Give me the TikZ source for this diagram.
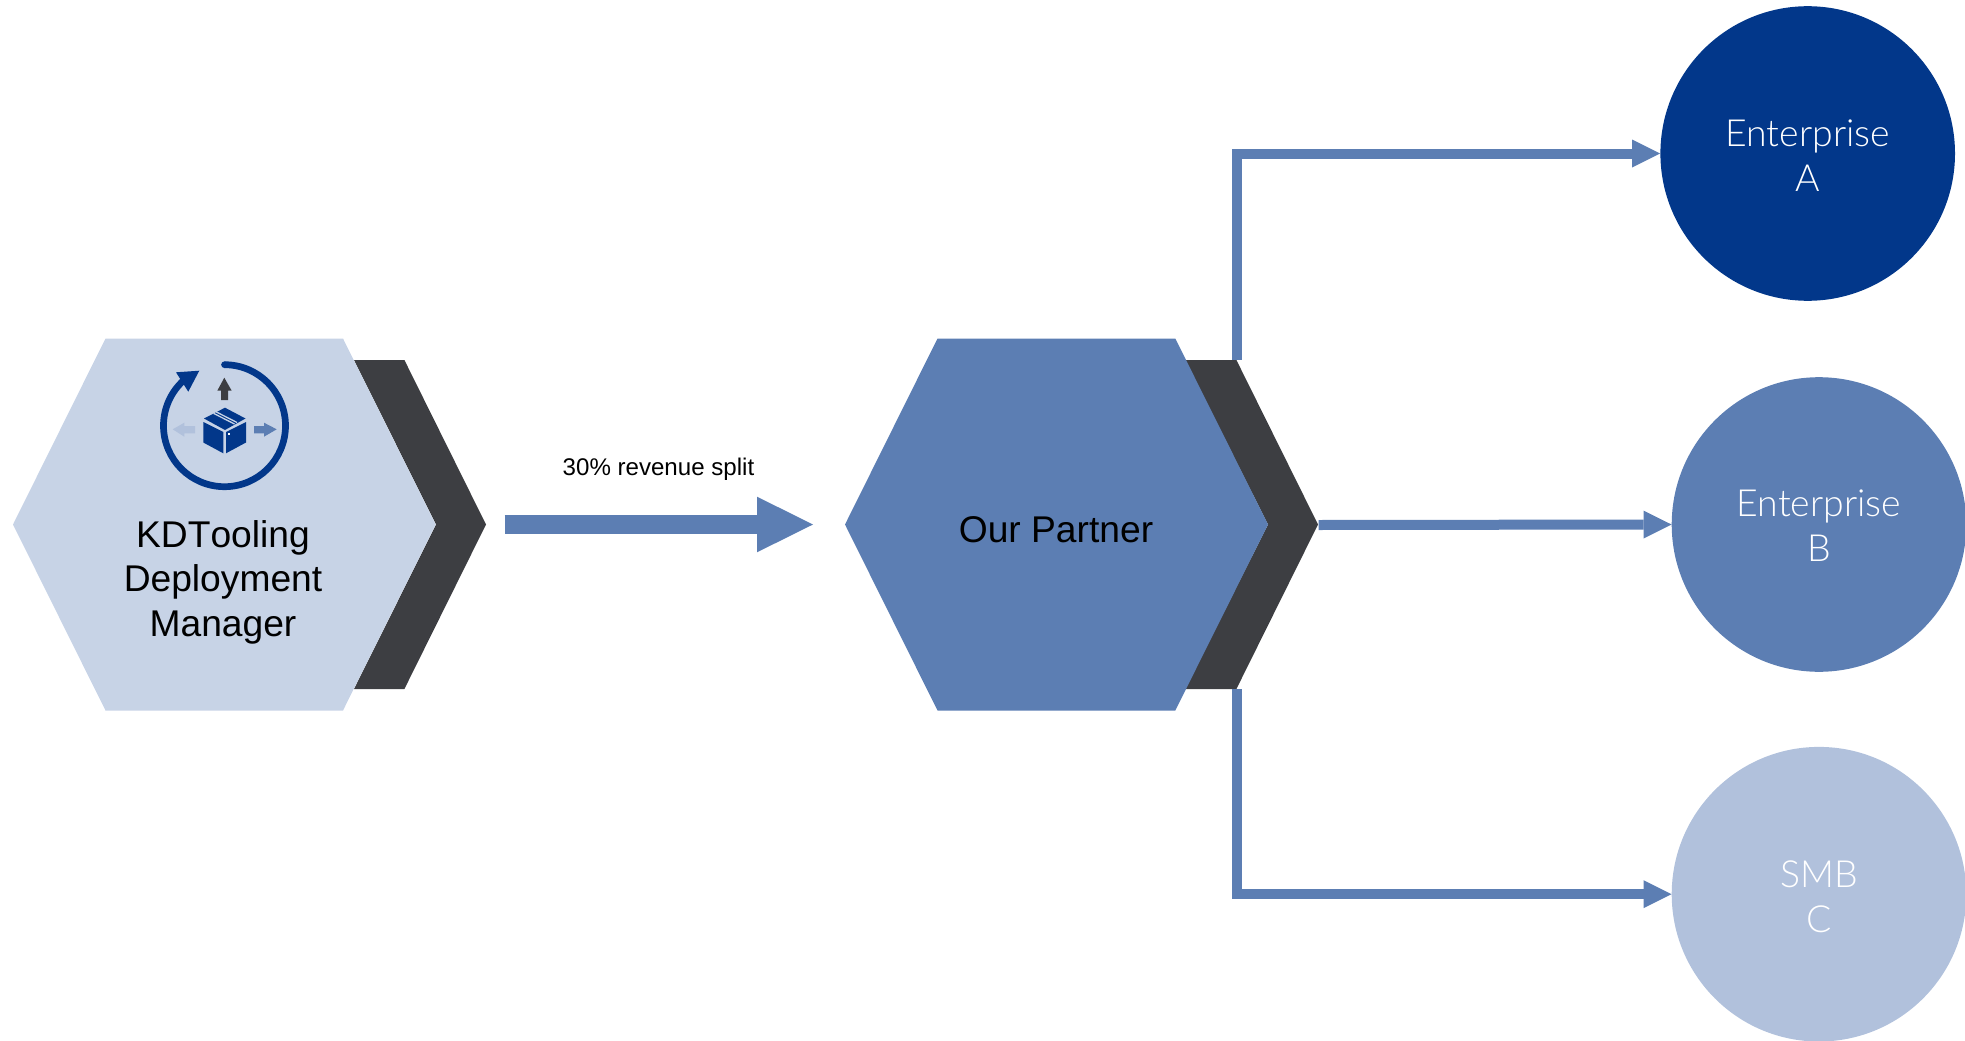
\documentclass[tikz,border=0pt]{standalone}
\usepackage{fontspec}
\setmainfont{Liberation Sans}
\newfontfamily\lightfont{Lato Light}
\usetikzlibrary{arrows.meta}
\definecolor{hexlight}{HTML}{C7D3E6}
\definecolor{hexmid}{HTML}{5C7EB3}
\definecolor{darkgrey}{HTML}{3D3E42}
\definecolor{navy}{HTML}{02378A}
\definecolor{pale}{HTML}{B1C1DC}
\newcommand{\circstrut}[1]{\rule{0pt}{#1}}
\tikzset{
  x=1pt,y=-1pt,
  hexlabel/.style={align=center,inner sep=0pt,font=\fontsize{37.2}{44.5}\selectfont,text=black},
  target/.style={circle,minimum size=294.6pt,inner sep=0pt,draw=none,align=center,text=white,font=\lightfont\fontsize{37.4}{45}\selectfont},
  conn/.style={draw=hexmid,line width=10pt,miter limit=10,-{Triangle[length=28pt,width=28pt,line width=0pt,fill=hexmid]}},
  bigconn/.style={draw=hexmid,line width=18.7pt,-{Triangle[length=56pt,width=55.6pt,line width=0pt,fill=hexmid]}},
  tapeline/.style={draw=hexlight,line width=1.3pt}
}
\begin{document}
\begin{tikzpicture}
\useasboundingbox (0,0) rectangle (1965,1041);
% left hexagon and chevron
\fill[darkgrey] (354,360) -- (404.4,360) -- (486,524.5) -- (404.4,689) -- (354,689) -- (436,524.5) -- cycle;
\fill[hexlight] (13,524.5) -- (105.5,338.5) -- (343,338.5) -- (435.7,524.5) -- (343,710.5) -- (105.5,710.5) -- cycle;
% right hexagon and chevron
\fill[darkgrey] (1185,360) -- (1236.4,360) -- (1318,524.5) -- (1236.4,689) -- (1185,689) -- (1268,524.5) -- cycle;
\fill[hexmid] (845,524.5) -- (937.5,338.5) -- (1175.3,338.5) -- (1268,524.5) -- (1175.3,710.5) -- (937.5,710.5) -- cycle;
% icon: ring
\fill[navy] (224.5,364.7) circle[radius=3.35];
\draw[navy,line width=6.7pt] (224.5,364.7) arc[start angle=-90,end angle=229,radius=61];
\fill[navy] (199.3,370.7) -- (176,372.3) -- (188.3,391.7) -- cycle;
% icon: arrows
\fill[darkgrey] (224.3,377.7) -- (231.7,390.7) -- (228,390.7) -- (228,400) -- (221,400) -- (221,390.7) -- (217.3,390.7) -- cycle;
\fill[pale] (172.7,429.3) -- (184.3,422.7) -- (184.3,426) -- (195,426) -- (195,433.3) -- (184.3,433.3) -- (184.3,436.7) -- cycle;
\fill[hexmid] (276.7,429.3) -- (264,422.7) -- (264,426) -- (254,426) -- (254,433.3) -- (264,433.3) -- (264,436.7) -- cycle;
% icon: box
\fill[navy] (225,407.7) -- (245.5,418.5) -- (225,430) -- (204,418.5) -- cycle;
\fill[navy] (203.3,422) -- (223.3,432) -- (223.3,453.3) -- (203.3,442.5) -- cycle;
\fill[navy] (226,432) -- (246,422) -- (246,442.5) -- (226,453.3) -- cycle;
\draw[tapeline] (213.5,413.3) -- (234.5,424);
\draw[tapeline] (216,411.8) -- (237,422.5);
\fill[white] (227.5,432.5) rectangle (230,435);
% labels
\node[hexlabel] (kd) at (223,582) {{\addfontfeature{Kerning=Off}KDTooling}\\Deployment\\Manager};
\node[hexlabel] (partner) at (1056,530) {Our Partner};
\node[inner sep=0pt,font=\fontsize{24.1}{29}\selectfont,text=black] (split) at (658.5,469.5) {30\% revenue split};
% circles
\node[target,fill=navy] (circA) at (1807.7,153.5) {\circstrut{30pt}Enterprise\\A};
\node[target,fill=hexmid] (circB) at (1819,524.5) {\circstrut{29pt}Enterprise\\B};
\node[target,fill=pale] (circC) at (1819,894.2) {\circstrut{32pt}SMB\\C};
% connector ends
\coordinate (mainstart) at (504.5,524.5);
\coordinate (mainend) at (813,524.5);
\coordinate (upstart) at (1236.5,360);
\coordinate (midstart) at (1318.6,525);
\coordinate (downstart) at (1236.5,689);
% connectors
\draw[bigconn] (mainstart) -- (mainend);
\draw[conn] (upstart) |- (circA.west);
\draw[conn] (midstart) -- (circB.west);
\draw[conn] (downstart) |- (circC.west);
\end{tikzpicture}
\end{document}
